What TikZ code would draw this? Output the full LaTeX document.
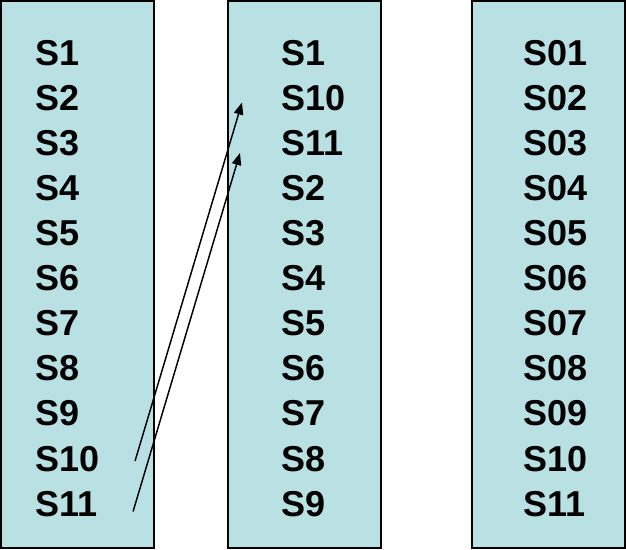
\documentclass[tikz,border=0pt]{standalone}
\usepackage{fontspec}
\setmainfont{Liberation Sans}
\usetikzlibrary{arrows.meta}

\definecolor{colfill}{RGB}{185,224,227}

\tikzset{every picture/.style={line width=0.75pt}}
\tikzset{
  seglbl/.style={anchor=west, inner sep=0pt, font=\fontsize{27}{30}\selectfont\bfseries},
  segcol/.style={draw=black, fill=colfill, line width=1.5pt},
  movearrow/.style={line width=1.1pt, -{Triangle[length=9pt,width=7pt]}}
}

\begin{document}
\begin{tikzpicture}[x=0.75pt,y=0.75pt,yscale=-1,xscale=1]
\useasboundingbox (0,0) rectangle (626,550);

%Shape: Rectangle [original order]
\draw [segcol] (1,1) rectangle (154,548);
%Shape: Rectangle [after move]
\draw [segcol] (228,1) rectangle (381,548);
%Shape: Rectangle [renumbered]
\draw [segcol] (472,1) rectangle (625,548);

% Text Node
\node [seglbl] (c1s1) at (35,53) {S1};
% Text Node
\node [seglbl] (c1s2) at (35,98) {S2};
% Text Node
\node [seglbl] (c1s3) at (35,143) {S3};
% Text Node
\node [seglbl] (c1s4) at (35,188) {S4};
% Text Node
\node [seglbl] (c1s5) at (35,233) {S5};
% Text Node
\node [seglbl] (c1s6) at (35,278) {S6};
% Text Node
\node [seglbl] (c1s7) at (35,323) {S7};
% Text Node
\node [seglbl] (c1s8) at (35,368) {S8};
% Text Node
\node [seglbl] (c1s9) at (35,413) {S9};
% Text Node
\node [seglbl] (c1s10) at (35,459) {S10};
% Text Node
\node [seglbl] (c1s11) at (35,504) {S11};

% Text Node
\node [seglbl] (c2s1) at (281,53) {S1};
% Text Node
\node [seglbl] (c2s10) at (281,98) {S10};
% Text Node
\node [seglbl] (c2s11) at (281,143) {S11};
% Text Node
\node [seglbl] (c2s2) at (281,188) {S2};
% Text Node
\node [seglbl] (c2s3) at (281,233) {S3};
% Text Node
\node [seglbl] (c2s4) at (281,278) {S4};
% Text Node
\node [seglbl] (c2s5) at (281,323) {S5};
% Text Node
\node [seglbl] (c2s6) at (281,368) {S6};
% Text Node
\node [seglbl] (c2s7) at (281,413) {S7};
% Text Node
\node [seglbl] (c2s8) at (281,459) {S8};
% Text Node
\node [seglbl] (c2s9) at (281,504) {S9};

% Text Node
\node [seglbl] (c3s01) at (523,53) {S01};
% Text Node
\node [seglbl] (c3s02) at (523,98) {S02};
% Text Node
\node [seglbl] (c3s03) at (523,143) {S03};
% Text Node
\node [seglbl] (c3s04) at (523,188) {S04};
% Text Node
\node [seglbl] (c3s05) at (523,233) {S05};
% Text Node
\node [seglbl] (c3s06) at (523,278) {S06};
% Text Node
\node [seglbl] (c3s07) at (523,323) {S07};
% Text Node
\node [seglbl] (c3s08) at (523,368) {S08};
% Text Node
\node [seglbl] (c3s09) at (523,413) {S09};
% Text Node
\node [seglbl] (c3s10) at (523,459) {S10};
% Text Node
\node [seglbl] (c3s11) at (523,504) {S11};

%Straight Lines [S10 moved up]
\draw [movearrow] ([xshift=26.25pt,yshift=1.5pt]c1s10.east) -- ([xshift=-29.25pt,yshift=3.4pt]c2s10.west);
%Straight Lines [S11 moved up]
\draw [movearrow] ([xshift=26.25pt,yshift=5.6pt]c1s11.east) -- ([xshift=-30.75pt,yshift=7.5pt]c2s11.west);

\end{tikzpicture}
\end{document}
